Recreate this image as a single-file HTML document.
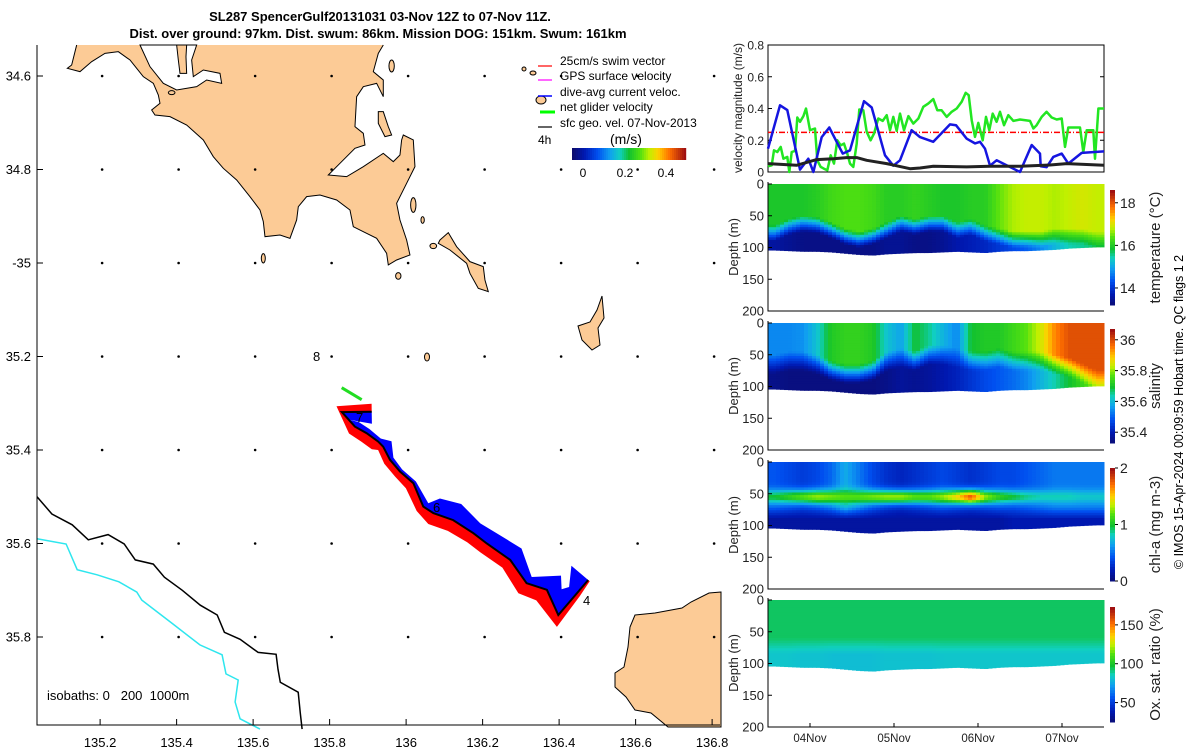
<!DOCTYPE html>
<html><head><meta charset="utf-8"><style>
html,body{margin:0;padding:0;background:#fff}
svg{display:block;font-family:"Liberation Sans",sans-serif}
</style></head><body>
<svg id="s" width="1200" height="750" viewBox="0 0 1200 750" xmlns="http://www.w3.org/2000/svg">
<rect width="1200" height="750" fill="#fff"/>
<g font-weight="bold" font-size="13" text-anchor="middle">
<text x="380" y="21">SL287 SpencerGulf20131031 03-Nov 12Z to 07-Nov 11Z.</text>
<text x="378" y="38">Dist. over ground: 97km. Dist. swum: 86km. Mission DOG: 151km. Swum: 161km</text>
</g>
<g id="map">
<g transform="translate(30,40) scale(0.3333)" fill="#fccb96" stroke="#000" stroke-width="3">
<path d="M140,15 L125,75 L112,85 L150,95 L185,65 L225,40 L265,35 L300,60 L320,85 L340,110 L370,130 L385,165 L390,190 L365,210 L375,225 L420,230 L470,255 L520,300 L550,350 L580,385 L620,420 L660,470 L690,510 L700,545 L705,590 L750,585 L780,595 L800,540 L805,500 L830,470 L870,465 L920,480 L960,510 L970,560 L1000,575 L1040,595 L1070,640 L1075,675 L1100,660 L1140,645 L1130,600 L1110,540 L1100,490 L1130,430 L1155,380 L1150,300 L1120,285 L1115,300 L1110,345 L1090,365 L1060,340 L1000,380 L950,410 L895,405 L930,370 L975,325 L1005,315 L1000,280 L975,260 L980,170 L1000,140 L1040,130 L1060,170 L1060,120 L1030,95 L1045,40 L1060,15 Z" stroke="none"/>
<path d="M140,15 L125,75 L112,85 L150,95 L185,65 L225,40 L265,35 L300,60 L320,85 L340,110 L370,130 L385,165 L390,190 L365,210 L375,225 L420,230 L470,255 L520,300 L550,350 L580,385 L620,420 L660,470 L690,510 L700,545 L705,590 L750,585 L780,595 L800,540 L805,500 L830,470 L870,465 L920,480 L960,510 L970,560 L1000,575 L1040,595 L1070,640 L1075,675 L1100,660 L1140,645 L1130,600 L1110,540 L1100,490 L1130,430 L1155,380 L1150,300 L1120,285 L1115,300 L1110,345 L1090,365 L1060,340 L1000,380 L950,410 L895,405 L930,370 L975,325 L1005,315 L1000,280 L975,260 L980,170 L1000,140 L1040,130 L1060,170 L1060,120 L1030,95 L1045,40 L1060,15" fill="none"/>
<path d="M330,15 L360,80 L400,130 L440,150 L500,140 L530,120 L575,130 L570,100 L520,90 L490,110 L485,60 L500,15 Z" fill="#fff"/>
<path d="M440,15 L445,60 L450,100 L470,100 L468,50 L470,15 Z"/>
<path d="M1230,600 L1255,578 L1280,620 L1320,665 L1360,680 L1365,720 L1375,755 L1345,745 L1320,700 L1310,670 L1260,630 L1225,610 Z"/>
<path d="M1045,215 L1060,215 L1075,260 L1085,285 L1065,290 L1045,250 Z"/>
<ellipse cx="1150" cy="495" rx="8" ry="22"/>
<ellipse cx="1085" cy="78" rx="8" ry="18"/>
<ellipse cx="1105" cy="708" rx="8" ry="10"/>
<ellipse cx="700" cy="655" rx="6" ry="14"/>
<ellipse cx="1210" cy="618" rx="10" ry="8"/>
<ellipse cx="1178" cy="540" rx="5" ry="10"/>
<ellipse cx="425" cy="158" rx="10" ry="6"/>
</g>
<g fill="#fccb96" stroke="#000" stroke-width="1">
<path d="M602,296 L604,318 L598,328 L600,345 L592,350 L582,340 L578,326 L590,322 L597,310 Z"/>
<ellipse cx="427" cy="357" rx="2.5" ry="4"/>
<ellipse cx="541" cy="100" rx="5" ry="4"/>
<ellipse cx="533" cy="73" rx="3" ry="2"/>
<ellipse cx="524" cy="69" rx="2" ry="2"/>
<path d="M721,592 L709,593 L691,602 L682,608 L655,613 L635,615 L630,627 L628,647 L624,667 L615,673 L615,687 L626,697 L635,710 L651,713 L668,727 L721,727 Z"/>
</g>
<g id="mapdyn"></g>
<text x="313" y="361" font-size="13">8</text>
<text x="356" y="422" font-size="13">7</text>
<text x="433" y="512" font-size="13">6</text>
<text x="583" y="605" font-size="13">4</text>
<text x="47" y="700" font-size="13">isobaths: 0&#160;&#160; 200&#160; 1000m</text>
<g font-size="12">
<line x1="552" y1="66" x2="538" y2="66" stroke="#f00" stroke-width="1.2"/>
<text x="560" y="65">25cm/s swim vector</text>
<line x1="552" y1="80" x2="538" y2="80" stroke="#f0f" stroke-width="1.2"/>
<text x="560" y="80">GPS surface velocity</text>
<line x1="552" y1="96" x2="538" y2="96" stroke="#00f" stroke-width="1.5"/>
<text x="560" y="96">dive-avg current veloc.</text>
<line x1="555" y1="112" x2="540" y2="112" stroke="#0f0" stroke-width="3"/>
<text x="560" y="111">net glider velocity</text>
<line x1="552" y1="127" x2="538" y2="127" stroke="#000" stroke-width="1.2"/>
<text x="560" y="127">sfc geo. vel. 07-Nov-2013</text>
<text x="538" y="144">4h</text>
<text x="610" y="144" font-size="14">(m/s)</text>
<text x="583" y="177" text-anchor="middle">0</text>
<text x="625" y="177" text-anchor="middle">0.2</text>
<text x="666" y="177" text-anchor="middle">0.4</text>
</g>
</g>
<g id="right"></g>
<text transform="translate(1183,412) rotate(-90)" text-anchor="middle" font-size="12.5">© IMOS 15-Apr-2024 00:09:59 Hobart time. QC flags 1  2</text>
</svg>
<script>
// ---------- data ----------
const mapLonTicks=[135.2,135.4,135.6,135.8,136,136.2,136.4,136.6,136.8];
const mapLonLabels=["135.2","135.4","135.6","135.8","136","136.2","136.4","136.6","136.8"];
const mapLatTicks=[34.6,34.8,35,35.2,35.4,35.6,35.8];
const mapLatLabels=["34.6","34.8","-35","35.2","35.4","35.6","35.8"];
const trackLon=[135.910,135.832,135.866,135.897,135.927,135.940,135.958,135.984,136.019,136.045,136.071,136.123,136.176,136.211,136.272,136.315,136.368,136.398,136.446,136.476];
const trackLat=[35.318,35.319,35.350,35.364,35.382,35.393,35.421,35.446,35.471,35.521,35.535,35.550,35.578,35.600,35.635,35.685,35.699,35.753,35.707,35.678];
const dacWidth=[12,10,6,5,4,10,4,3,3,6,16,18,12,14,16,8,20,26,10,22];
const swimWidth=[8,8,9,10,10,6,7,7,9,8,12,12,11,11,11,13,15,12,4,2];
const iso200Lon=[135.035,135.074,135.127,135.169,135.221,135.263,135.292,135.339,135.368,135.415,135.462,135.506,135.525,135.566,135.613,135.660,135.665,135.671,135.718,135.723,135.728];
const iso200Lat=[35.500,35.537,35.560,35.592,35.581,35.601,35.635,35.644,35.672,35.700,35.732,35.753,35.790,35.805,35.833,35.837,35.869,35.897,35.918,35.961,35.997];
const iso1000Lon=[135.035,135.111,135.140,135.192,135.249,135.296,135.309,135.390,135.461,135.519,135.529,135.561,135.553,135.566,135.618];
const iso1000Lat=[35.590,35.601,35.656,35.667,35.682,35.704,35.721,35.772,35.817,35.838,35.879,35.892,35.939,35.975,35.997];
// velocity panel
const velTicks=[0,0.2,0.4,0.6,0.8];
const dayTicks=[0.5,1.5,2.5,3.5];
const dayLabels=["04Nov","05Nov","06Nov","07Nov"];
const blueDays=[0,.143,.230,.381,.480,.540,.639,.730,.889,.976,1.143,1.234,1.393,1.492,1.571,1.710,1.810,1.968,2.167,2.238,2.365,2.464,2.524,2.583,2.643,2.722,3.0,3.139,3.238,3.246,3.317,3.397,3.496,3.575,3.734,4.0];
const blueVals=[.147,.42,.39,.015,.084,0,.22,.28,.116,.137,.446,.406,.105,.04,.074,.263,.22,.19,.3,.295,.21,.18,.19,.147,.04,.074,0,.17,.116,.036,.03,.095,.116,.053,.12,.13];
const greenDays=[0,.044,.071,.111,.151,.183,.230,.254,.282,.321,.349,.381,.421,.452,.5,.56,.587,.627,.667,.706,.746,.786,.825,.865,.905,.944,.976,1.016,1.056,1.087,1.135,1.175,1.222,1.262,1.313,1.365,1.413,1.452,1.492,1.532,1.571,1.619,1.671,1.73,1.79,1.849,1.909,1.968,2.016,2.067,2.127,2.187,2.246,2.306,2.353,2.389,2.425,2.464,2.504,2.556,2.595,2.635,2.675,2.722,2.762,2.81,2.861,2.921,3.0,3.119,3.159,3.198,3.258,3.317,3.377,3.437,3.496,3.536,3.575,3.714,3.754,3.794,3.873,3.893,3.933,4.0];
const greenVals=[.036,.042,.137,.126,.158,.084,.095,0,.126,.133,.343,.316,.352,.4,.263,.274,.074,.032,.021,.011,.105,.053,.2,.168,.179,.116,.053,.032,.179,.394,.389,.253,.2,.242,.337,.322,.358,.263,.347,.259,.368,.263,.352,.305,.337,.411,.432,.459,.389,.389,.347,.379,.4,.442,.499,.484,.326,.221,.309,.2,.347,.263,.368,.316,.379,.295,.358,.322,.331,.322,.274,.295,.347,.379,.343,.331,.337,.158,.28,.28,.126,.263,.263,.084,.4,.4];
const blackDays=[0,.341,.579,.778,.937,1.056,1.175,1.413,1.69,1.81,1.968,2.365,2.643,3.0,3.357,3.556,4.0];
const blackVals=[.053,.042,.078,.084,.091,.091,.074,.053,.021,.025,.036,.032,.036,.036,.044,.053,.042];
const swimRef=[0.25];
// sections (24 columns, 1/6 day each)
const bottomDepth=[104,105,106,106,107,109,111,112,110,109,108,108,107,106,107,108,106,105,105,104,103,101,100,99];
const tempTop=[16.0,16.0,16.0,16.1,16.3,16.4,16.4,16.3,16.1,16.1,16.2,16.1,16.0,16.0,16.1,16.1,16.5,16.8,16.9,16.9,16.8,16.9,17.0,16.9];
const tempMld=[75,65,60,62,70,80,85,80,70,60,65,60,60,70,65,75,80,85,85,85,80,80,80,85];
const tempDeep=[13.6,13.5,13.4,13.4,13.4,13.4,13.4,13.4,13.5,13.5,13.4,13.4,13.5,13.7,13.8,13.9,14.1,14.3,14.5,14.8,15.2,15.5,15.6,15.8];
const salTop=[35.55,35.55,35.56,35.62,35.72,35.74,35.74,35.72,35.62,35.58,35.7,35.66,35.6,35.55,35.7,35.72,35.72,35.75,35.78,35.85,35.95,36.0,36.0,36.0];
const salMld=[55,50,50,55,65,70,70,65,50,45,50,40,40,45,50,50,45,50,50,50,55,60,70,80];
const salDeep=[35.36,35.35,35.35,35.35,35.35,35.35,35.35,35.35,35.36,35.38,35.37,35.38,35.40,35.42,35.45,35.48,35.5,35.52,35.55,35.6,35.65,35.7,35.75,35.8];
const chlTop=[0.45,0.4,0.35,0.4,0.5,0.7,0.55,0.4,0.3,0.25,0.3,0.35,0.4,0.35,0.3,0.35,0.4,0.4,0.45,0.5,0.55,0.55,0.55,0.55];
const chlBand=[1.0,1.1,1.2,1.3,1.25,1.2,1.2,1.25,1.3,1.3,1.2,1.2,1.3,1.5,1.8,1.3,1.1,1.0,0.9,0.85,0.85,0.85,0.8,0.8];
const chlDeep=[0.15,0.15,0.15,0.15,0.15,0.15,0.15,0.15,0.15,0.15,0.15,0.15,0.15,0.15,0.15,0.15,0.15,0.2,0.2,0.2,0.2,0.2,0.2,0.2];
const oxyTop=[95,95,95,95,95,95,95,95,95,95,95,95,95,95,95,95,95,95,95,95,95,95,95,95];
const oxyDeep=[84,84,83,83,82,82,82,82,83,83,83,83,84,84,84,84,84,84,84,84,84,84,84,84];
const depthTicks=[0,50,100,150,200];

// ---------- helpers ----------
const NS="http://www.w3.org/2000/svg";
const S=document.getElementById('s');
function mk(tag,attrs,parent){const e=document.createElementNS(NS,tag);for(const k in attrs)e.setAttribute(k,attrs[k]);(parent||S).appendChild(e);return e;}
const mx=lon=>37+(lon-135.035)*382.5;
const my=lat=>76+(lat-34.6)*467.5;
const stops=[[0,[12,12,110]],[0.1,[0,24,176]],[0.22,[0,80,240]],[0.33,[16,160,240]],[0.42,[16,208,192]],[0.5,[16,192,48]],[0.6,[80,224,16]],[0.68,[192,240,0]],[0.76,[255,208,0]],[0.86,[255,112,0]],[1,[160,16,16]]];
function cmap(t){t=Math.max(0,Math.min(1,t));for(let i=1;i<stops.length;i++){if(t<=stops[i][0]){const a=stops[i-1],b=stops[i],f=(t-a[0])/(b[0]-a[0]);const c=a[1].map((v,j)=>Math.round(v+(b[1][j]-v)*f));return `rgb(${c})`;}}return 'rgb(160,16,16)';}
const lerp=(a,b,f)=>a+(b-a)*Math.max(0,Math.min(1,f));
function interp(arr,f){f=Math.max(0,Math.min(arr.length-1,f));const i=Math.floor(f),j=Math.min(arr.length-1,i+1);return arr[i]+(arr[j]-arr[i])*(f-i);}

// ---------- map ----------
const md=document.getElementById('mapdyn');
function poly(lons,lats){return lons.map((l,i)=>`${mx(l).toFixed(1)},${my(lats[i]).toFixed(1)}`).join(' ');}
const iso2=mk('polyline',{points:poly(iso200Lon,iso200Lat),fill:'none',stroke:'#000','stroke-width':1.5},md);


const iso1=mk('polyline',{points:poly(iso1000Lon,iso1000Lat),fill:'none',stroke:'#2ee6ee','stroke-width':1.5},md);


mapLonTicks.forEach(lo=>mapLatTicks.forEach(la=>{const d=mk('circle',{cx:mx(lo)+2,cy:my(la),r:1.3,fill:'#000'},md);

}));
const tx=trackLon.map(mx),ty=trackLat.map(my);
function normals(){const n=[];for(let i=0;i<tx.length;i++){const a=Math.max(0,i-1),b=Math.min(tx.length-1,i+1);let dx=tx[b]-tx[a],dy=ty[b]-ty[a];const L=Math.hypot(dx,dy)||1;n.push([dy/L,-dx/L]);}return n;}
const nrm=normals();
function swath(w,sign){const a=[],b=[];for(let i=0;i<tx.length;i++){a.push(`${tx[i]},${ty[i]}`);b.unshift(`${(tx[i]+sign*nrm[i][0]*w[i]).toFixed(1)},${(ty[i]+sign*nrm[i][1]*w[i]).toFixed(1)}`);}return a.concat(b).join(' ');}
const sw=mk('polygon',{points:swath(swimWidth,-1),fill:'#f00'},md);


const dc=mk('polygon',{points:swath(dacWidth,1),fill:'#00f'},md);


const tr=mk('polyline',{points:poly(trackLon,trackLat),fill:'none',stroke:'#000','stroke-width':2},md);


const ga=mk('line',{x1:tx[0]-10,y1:ty[0]-12,x2:tx[0]-30,y2:ty[0]-24,stroke:'#2d2','stroke-width':3},md);


const ax=mk('path',{d:'M37,45 L37,725 L720,725',fill:'none',stroke:'#000','stroke-width':1},md);


mapLonTicks.forEach((lo,i)=>{mk('line',{x1:mx(lo),y1:725,x2:mx(lo),y2:719,stroke:'#000'},md);
const t=mk('text',{x:mx(lo),y:747,'text-anchor':'middle','font-size':13},md);t.textContent=mapLonLabels[i];

});
mapLatTicks.forEach((la,i)=>{mk('line',{x1:37,y1:my(la),x2:43,y2:my(la),stroke:'#000'},md);
const t=mk('text',{x:31,y:my(la)+4.5,'text-anchor':'end','font-size':13},md);t.textContent=mapLatLabels[i];

});
for(let i=0;i<57;i++){mk('rect',{x:572+i*2,y:148,width:2.2,height:12,fill:cmap(i/56)},md);}

// ---------- right panels ----------
const R=document.getElementById('right');
const X0=768,X1=1104;
const px=d=>X0+d/4*(X1-X0);
function frame(top,bot,name){const f=mk('path',{d:`M${X0},${top} L${X0},${bot} L${X1},${bot}`,fill:'none',stroke:'#000'},R);

}
const vy=v=>172-v/0.8*127;
mk('rect',{x:X0,y:45,width:X1-X0,height:127,fill:'none',stroke:'#000'},R);
velTicks.forEach(v=>{mk('line',{x1:X0,y1:vy(v),x2:X0+4,y2:vy(v),stroke:'#000'},R);mk('line',{x1:X1,y1:vy(v),x2:X1-4,y2:vy(v),stroke:'#000'},R);
const t=mk('text',{x:764,y:vy(v)+4.5,'text-anchor':'end','font-size':12,fill:'#222'},R);t.textContent=v===0?'0':v.toFixed(1);

});
const vl=mk('text',{transform:'translate(742,108) rotate(-90)','text-anchor':'middle','font-size':12,fill:'#222'},R);vl.textContent='velocity magnitude (m/s)';


const rl=mk('line',{x1:X0,y1:vy(swimRef[0]),x2:X1,y2:vy(swimRef[0]),stroke:'#f00','stroke-width':1.5,'stroke-dasharray':'6,2,1,2'},R);


function vline(days,vals,col,w){return mk('polyline',{points:days.map((d,i)=>`${px(d).toFixed(1)},${vy(vals[i]).toFixed(1)}`).join(' '),fill:'none',stroke:col,'stroke-width':w,'stroke-linejoin':'round'},R);}
const gl=vline(greenDays,greenVals,'#22e622',2.5);


const bl=vline(blueDays,blueVals,'#1515e0',2.5);


const kl=vline(blackDays,blackVals,'#222',3);



const panels=[
 {top:184,name:'temperature',vmin:13.2,vmax:18.6,cb:[190,305],ticks:[14,16,18],label:'temperature (°C)',
  f:(i,d)=>lerp(interp(tempTop,i),interp(tempDeep,i),(d-interp(tempMld,i)+10)/25)},
 {top:323,name:'salinity',vmin:35.33,vmax:36.07,cb:[329,443],ticks:[35.4,35.6,35.8,36],label:'salinity',
  f:(i,d)=>lerp(interp(salTop,i),interp(salDeep,i),(d-interp(salMld,i)+5)/30)},
 {top:462,name:'chlorophyll',vmin:0,vmax:2,cb:[468,581],ticks:[0,1,2],label:'chl-a (mg m-3)',
  f:(i,d)=>{const t=interp(chlTop,i);const base=lerp(t,interp(chlDeep,i),(d-72)/18);return base+(interp(chlBand,i)-t)*Math.exp(-Math.pow((d-55)/11,2));}},
 {top:600,name:'oxygen',vmin:25,vmax:173,cb:[607,722],ticks:[50,100,150],label:'Ox. sat. ratio (%)',
  f:(i,d)=>lerp(interp(oxyTop,i),interp(oxyDeep,i),(d-60)/25)}
];
const nCol=bottomDepth.length, colW=(X1-X0)/nCol, dz=4, subW=4;
panels.forEach(P=>{
 const dy=d=>P.top+d/200*127;
 const g=mk('g',{},R);
 
 
 for(let x=X0;x<X1;x+=subW){const fi=(x+subW/2-X0)/colW-0.5;const bd=interp(bottomDepth,fi);
  for(let d=0;d<bd;d+=dz){
  const v=P.f(fi,d+dz/2);
  const h=Math.min(dz,bd-d);
  mk('rect',{x:x,y:dy(d).toFixed(2),width:subW+0.5,height:(127*h/200+0.5).toFixed(2),fill:cmap((v-P.vmin)/(P.vmax-P.vmin))},g);
 }}
 frame(P.top-2,P.top+127,P.name+'-axes');
 depthTicks.forEach(d=>{mk('line',{x1:X0,y1:dy(d),x2:X0+4,y2:dy(d),stroke:'#000'},R);
  const t=mk('text',{x:764,y:dy(d)+4.5,'text-anchor':'end','font-size':13,fill:'#222'},R);t.textContent=d;
  
  });
 const yl=mk('text',{transform:`translate(738,${P.top+63}) rotate(-90)`,'text-anchor':'middle','font-size':13,fill:'#222'},R);yl.textContent='Depth (m)';
 
 
 const [c0,c1]=P.cb, cbY=v=>c1-(v-P.vmin)/(P.vmax-P.vmin)*(c1-c0);
 const cg=mk('g',{},R);
 
 
 for(let k=0;k<40;k++){mk('rect',{x:1110,y:c0+k*(c1-c0)/40,width:5,height:(c1-c0)/40+0.5,fill:cmap(1-k/40)},cg);}
 P.ticks.forEach(v=>{mk('line',{x1:1115,y1:cbY(v),x2:1118,y2:cbY(v),stroke:'#000'},cg);
  const t=mk('text',{x:1120,y:cbY(v)+5,'font-size':14,fill:'#222'},cg);t.textContent=String(v);
  
  });
 const cl=mk('text',{transform:`translate(1160,${(c0+c1)/2}) rotate(-90)`,'text-anchor':'middle','font-size':15,fill:'#222'},R);cl.textContent=P.label;
 
 
});
dayTicks.forEach((d,i)=>{mk('line',{x1:px(d),y1:727,x2:px(d),y2:723,stroke:'#000'},R);
 const t=mk('text',{x:px(d),y:742,'text-anchor':'middle','font-size':11.5,fill:'#222'},R);t.textContent=dayLabels[i];
 
 });
</script>
</body></html>
